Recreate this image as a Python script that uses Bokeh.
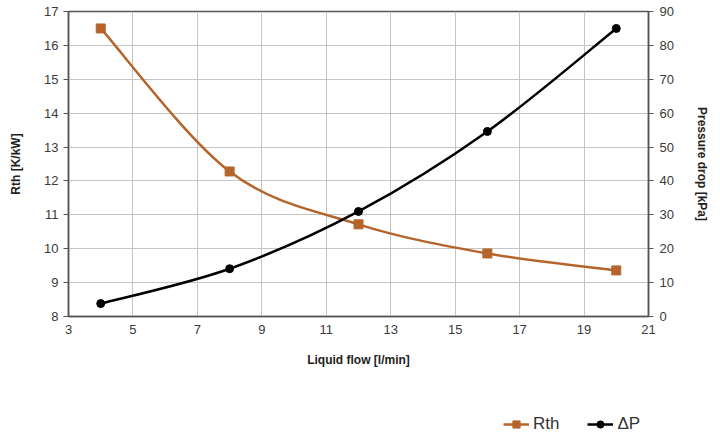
from bokeh.plotting import figure
from bokeh.layouts import column
from bokeh.models import Range1d, LinearAxis, FixedTicker, Legend, LegendItem, ColumnDataSource
from bokeh.embed import file_html
from bokeh.resources import INLINE

flow = [4, 8, 12, 16, 20]
rth = [16.5, 12.28, 10.72, 9.86, 9.36]
dp = [3.8, 14.1, 31.0, 54.6, 85.0]
x_ticks = [3, 5, 7, 9, 11, 13, 15, 17, 19, 21]
rth_ticks = [8, 9, 10, 11, 12, 13, 14, 15, 16, 17]
dp_ticks = [0, 10, 20, 30, 40, 50, 60, 70, 80, 90]

ORANGE = "#b5652b"
BLACK = "#000000"
FONT = "Liberation Sans"
TXT = "#3a3a3a"


def smooth_segments(xs, ys):
    # Catmull-Rom style control points (like spreadsheet smoothed lines)
    n = len(xs)
    d = dict(x0=[], y0=[], x1=[], y1=[], cx0=[], cy0=[], cx1=[], cy1=[])
    for i in range(n - 1):
        p0 = max(i - 1, 0)
        p3 = min(i + 2, n - 1)
        d["x0"].append(xs[i]); d["y0"].append(ys[i])
        d["x1"].append(xs[i + 1]); d["y1"].append(ys[i + 1])
        d["cx0"].append(xs[i] + (xs[i + 1] - xs[p0]) / 6.0)
        d["cy0"].append(ys[i] + (ys[i + 1] - ys[p0]) / 6.0)
        d["cx1"].append(xs[i + 1] - (xs[p3] - xs[i]) / 6.0)
        d["cy1"].append(ys[i + 1] - (ys[p3] - ys[i]) / 6.0)
    return ColumnDataSource(d)


p = figure(frame_width=580, frame_height=305, output_backend="svg", toolbar_location=None,
           x_range=Range1d(3, 21), y_range=Range1d(8, 17),
           min_border_left=68, min_border_right=72, min_border_top=11, min_border_bottom=79)
p.extra_y_ranges = {"dp": Range1d(0, 90)}
p.outline_line_color = "#555555"
p.outline_line_width = 1.5
p.background_fill_color = "white"
p.border_fill_color = "white"

# axes
p.xaxis.ticker = FixedTicker(ticks=x_ticks)
p.yaxis.ticker = FixedTicker(ticks=rth_ticks)
right = LinearAxis(y_range_name="dp", ticker=FixedTicker(ticks=dp_ticks))
p.add_layout(right, "right")

for ax in [p.xaxis[0], p.yaxis[0], right]:
    ax.axis_line_color = "#555555"
    ax.axis_line_width = 1.5
    ax.major_tick_line_color = "#555555"
    ax.major_tick_in = 0
    ax.major_tick_out = 5
    ax.minor_tick_line_color = None
    ax.major_label_text_font = FONT
    ax.major_label_text_font_size = "13px"
    ax.major_label_text_color = TXT
    ax.axis_label_text_font = FONT
    ax.axis_label_text_font_size = "12px"
    ax.axis_label_text_font_style = "bold"
    ax.axis_label_text_color = "#222222"

p.xaxis.major_tick_line_color = None
p.xaxis.major_tick_out = 0
p.xaxis.major_label_standoff = 8
p.xaxis.axis_label = "Liquid flow [l/min]"
p.xaxis.axis_label_standoff = 16
p.yaxis.axis_label = "Rth [K/kW]"
p.yaxis.major_label_standoff = 5
p.yaxis.axis_label_standoff = 18
right.axis_label = "Pressure drop [kPa]"
right.major_label_standoff = 6
right.axis_label_standoff = 18

p.xgrid.ticker = FixedTicker(ticks=x_ticks)
p.xgrid.grid_line_color = "#c4c4c4"
p.ygrid.grid_line_color = "#c4c4c4"

# series
p.bezier(x0="x0", y0="y0", x1="x1", y1="y1", cx0="cx0", cy0="cy0", cx1="cx1", cy1="cy1",
         source=smooth_segments(flow, rth), line_color=ORANGE, line_width=2.5)
p.scatter(flow, rth, marker="square", size=9, fill_color=ORANGE, line_color=ORANGE)

p.bezier(x0="x0", y0="y0", x1="x1", y1="y1", cx0="cx0", cy0="cy0", cx1="cx1", cy1="cy1",
         source=smooth_segments(flow, dp), line_color=BLACK, line_width=2.5, y_range_name="dp")
p.scatter(flow, dp, marker="circle", size=8, fill_color=BLACK, line_color=BLACK, y_range_name="dp")

# legend strip under the chart (its renderers reuse the series, outside the strip's view)
lg = figure(width=720, height=43, output_backend="svg", toolbar_location=None,
            x_range=Range1d(100, 101), y_range=Range1d(100, 101),
            min_border=0, outline_line_color=None)
lg.axis.visible = False
lg.grid.visible = False
l1 = lg.line(flow, rth, line_color=ORANGE, line_width=2.5)
s1 = lg.scatter(flow, rth, marker="square", size=9, fill_color=ORANGE, line_color=ORANGE)
l2 = lg.line(flow, dp, line_color=BLACK, line_width=2.5)
s2 = lg.scatter(flow, dp, marker="circle", size=8, fill_color=BLACK, line_color=BLACK)

legend = Legend(items=[LegendItem(label="Rth", renderers=[l1, s1]),
                       LegendItem(label="ΔP", renderers=[l2, s2])],
                orientation="horizontal", location=(435, 4),
                label_text_font=FONT, label_text_font_size="17px", label_text_color="#333333",
                glyph_width=26, glyph_height=18, spacing=28, label_standoff=4,
                background_fill_alpha=0, border_line_color=None, padding=0, margin=0)
lg.add_layout(legend, "center")

open("out.html", "w").write(file_html(column(p, lg, spacing=0), INLINE))
